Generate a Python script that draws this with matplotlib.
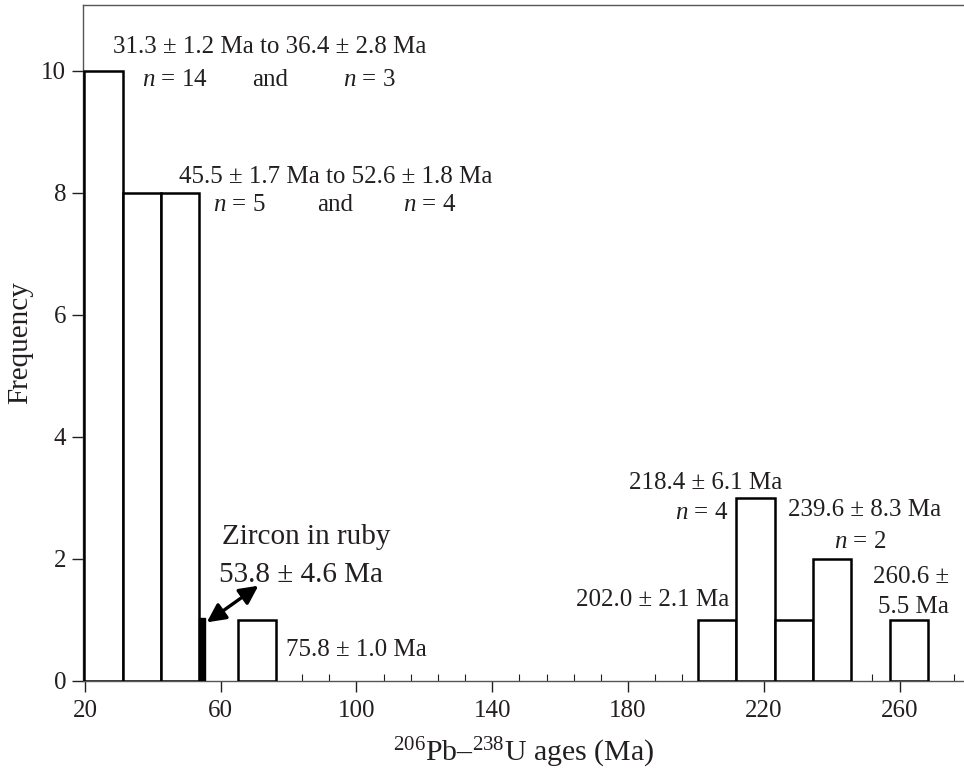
import matplotlib
matplotlib.use("Agg")
import matplotlib.pyplot as plt
from matplotlib.ticker import MultipleLocator

# -------------------------
# Daten
# -------------------------

bin_left = [19.8, 31.1, 42.4, 65.0, 200.6, 211.9, 223.2, 234.5, 257.1]
counts = [10, 8, 8, 1, 1, 3, 1, 2, 1]
bin_width = 11.3

zircon_left = [53.7]
zircon_count = [1.03]
zircon_width = 1.6

y_ticks = [0, 2, 4, 6, 8, 10]
x_ticks = [20, 60, 100, 140, 180, 220, 260]

INK = "#231f20"

plt.rcParams["font.family"] = ["Liberation Serif", "DejaVu Serif"]
plt.rcParams["mathtext.fontset"] = "custom"
plt.rcParams["mathtext.rm"] = "Liberation Serif"
plt.rcParams["mathtext.it"] = "Liberation Serif:italic"

fig = plt.figure(figsize=(9.64, 7.8), dpi=100, facecolor="white")
ax = fig.add_axes([0.086, 0.127, 0.914, 0.867])

# Histogrammbalken
ax.bar(bin_left, counts, width=bin_width, align="edge",
       facecolor="white", edgecolor="black", linewidth=1.8, zorder=3)
ax.bar(zircon_left, zircon_count, width=zircon_width, align="edge",
       facecolor="black", edgecolor="black", linewidth=1.0, zorder=3)

ax.set_xlim(19.4, 279)
ax.set_ylim(0, 11.08)

ax.set_xticks(x_ticks)
ax.xaxis.set_minor_locator(MultipleLocator(8, offset=4))
ax.set_yticks(y_ticks)

ax.tick_params(axis="x", which="major", direction="out", length=8, width=1,
               labelsize=18, colors=INK, pad=6)
ax.tick_params(axis="x", which="minor", direction="in", length=5, width=0.8,
               colors=INK)
ax.tick_params(axis="y", which="major", direction="out", length=8, width=1,
               labelsize=18, colors=INK, pad=4)

for side in ["top", "left", "bottom"]:
    ax.spines[side].set_color("#555555")
    ax.spines[side].set_linewidth(1.0)
ax.spines["right"].set_visible(False)

ax.set_ylabel("Frequency", fontsize=21, color=INK, labelpad=6)
ax.set_xlabel("$^{206}$Pb–$^{238}$U ages (Ma)", fontsize=21.5, color=INK,
              labelpad=10)

# -------------------------
# Beschriftungen
# -------------------------

fs = 18
ax.text(28.3, 10.38, "31.3 ± 1.2 Ma to 36.4 ± 2.8 Ma", fontsize=fs,
        color=INK, va="center")
ax.text(36.8, 9.85, "$n$ = 14", fontsize=fs, color=INK, va="center")
ax.text(69.3, 9.85, "and", fontsize=fs, color=INK, va="center")
ax.text(96.1, 9.85, "$n$ = 3", fontsize=fs, color=INK, va="center")

ax.text(47.7, 8.26, "45.5 ± 1.7 Ma to 52.6 ± 1.8 Ma", fontsize=fs,
        color=INK, va="center")
ax.text(57.8, 7.8, "$n$ = 5", fontsize=fs, color=INK, va="center")
ax.text(88.4, 7.8, "and", fontsize=fs, color=INK, va="center")
ax.text(113.8, 7.8, "$n$ = 4", fontsize=fs, color=INK, va="center")

ax.text(60.4, 2.36, "Zircon in ruby", fontsize=21, color=INK, va="center")
ax.text(59.5, 1.74, "53.8 ± 4.6 Ma", fontsize=21, color=INK, va="center")
ax.annotate("", xy=(55.9, 0.96), xytext=(71.1, 1.56),
            arrowprops=dict(arrowstyle="<|-|>", color="black", lw=2.4,
                            mutation_scale=28, shrinkA=0, shrinkB=0))

ax.text(79.3, 0.51, "75.8 ± 1.0 Ma", fontsize=fs, color=INK, va="center")

ax.text(180.2, 3.25, "218.4 ± 6.1 Ma", fontsize=fs, color=INK, va="center")
ax.text(209.4, 2.75, "$n$ = 4", fontsize=fs, color=INK, va="center", ha="right")
ax.text(227.1, 2.80, "239.6 ± 8.3 Ma", fontsize=fs, color=INK, va="center")
ax.text(240.6, 2.28, "$n$ = 2", fontsize=fs, color=INK, va="center")
ax.text(209.7, 1.33, "202.0 ± 2.1 Ma", fontsize=fs, color=INK, va="center",
        ha="right")
ax.text(274.6, 1.70, "260.6 ±", fontsize=fs, color=INK, va="center", ha="right")
ax.text(274.6, 1.21, "5.5 Ma", fontsize=fs, color=INK, va="center", ha="right")

fig.savefig("out.png", dpi=100, facecolor="white")
